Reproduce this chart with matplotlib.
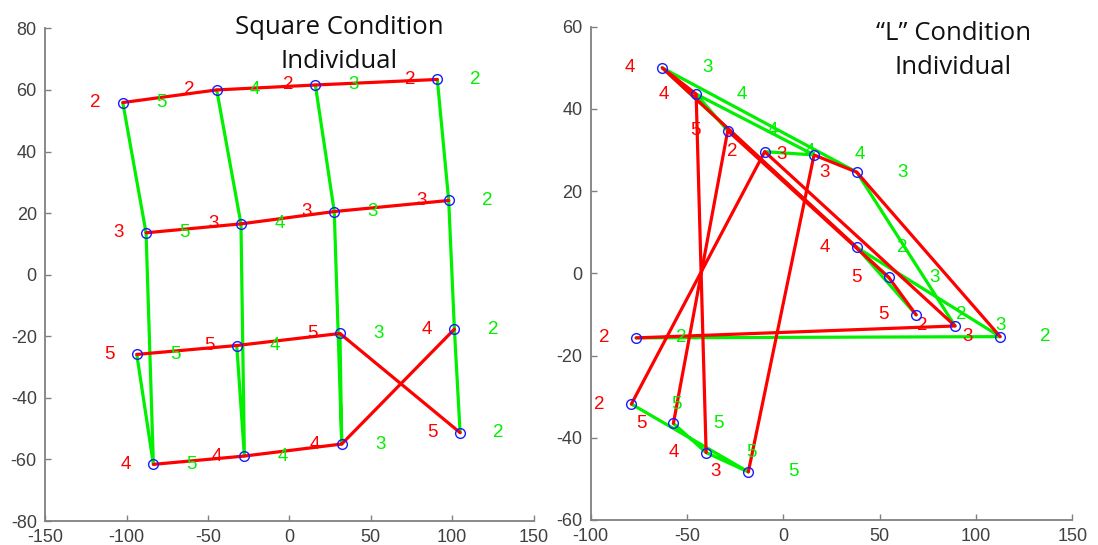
import matplotlib
matplotlib.use("Agg")
import matplotlib.pyplot as plt

# ---- Square condition: 16 node positions with their row (red) and column (green) labels
sq_x = [-102.3, -44.6, 16.0, 90.9,
        -88.0, -29.7, 27.6, 97.9,
        -93.7, -32.3, 31.1, 101.4,
        -83.5, -27.6, 32.2, 104.9]
sq_y = [55.9, 60.0, 61.6, 63.4,
        13.6, 16.5, 20.5, 24.1,
        -25.9, -23.0, -19.1, -17.7,
        -61.6, -58.9, -55.0, -51.3]
sq_red = [2, 2, 2, 2,
          3, 3, 3, 3,
          5, 5, 5, 4,
          4, 4, 4, 5]
sq_green = [5, 4, 3, 2,
            5, 4, 3, 2,
            5, 4, 3, 2,
            5, 4, 3, 2]

# ---- "L" condition
l_x = [-62.9, -45.3, -28.9, -9.7, 15.9, 38.1, 38.1, 54.7,
       68.9, 89.1, 112.5, -76.4, -78.9, -57.1, -40.1, -18.2]
l_y = [50.0, 43.6, 34.7, 29.6, 28.8, 24.6, 6.3, -1.0,
       -10.1, -12.8, -15.4, -15.7, -31.8, -36.5, -43.6, -48.3]
l_red = [4, 4, 5, 2, 3, 3, 4, 5,
         5, 2, 3, 2, 2, 5, 4, 3]
l_green = [3, 4, 4, 4, 4, 3, 2, 3,
           2, 3, 2, 2, 5, 5, 5, 5]

sq_title = ["Square Condition", "Individual"]
l_title = ["\u201cL\u201d Condition", "Individual"]

sq_xticks = [-150, -100, -50, 0, 50, 100, 150]
sq_yticks = [-80, -60, -40, -20, 0, 20, 40, 60, 80]
l_xticks = [-100, -50, 0, 50, 100, 150]
l_yticks = [-60, -40, -20, 0, 20, 40, 60]

RED = "#ff0000"
GREEN = "#00f000"
BLUE = "#1a1aff"
RED_DX = -16.8     # label offsets in data units
GREEN_DX = 23.6

plt.rcParams["font.family"] = ["Liberation Sans", "DejaVu Sans"]
plt.rcParams["axes.unicode_minus"] = False

fig = plt.figure(figsize=(10.98, 5.45), dpi=100)
ax1 = fig.add_axes([0.0411, 0.0440, 0.4448, 0.9040])
ax2 = fig.add_axes([0.5380, 0.0459, 0.4387, 0.9051])


def connect(ax, xs, ys, key, order, color):
    for k in sorted(set(key)):
        idx = [i for i in range(len(xs)) if key[i] == k]
        idx.sort(key=lambda i: order[i])
        ax.plot([xs[i] for i in idx], [ys[i] for i in idx], color=color,
                lw=2.3, solid_capstyle="round", zorder=2)


def draw(ax, xs, ys, red, green, xlim, ylim, xticks, yticks):
    connect(ax, xs, ys, green, red, GREEN)
    connect(ax, xs, ys, red, green, RED)
    ax.plot(xs, ys, "o", mfc="none", mec=BLUE, ms=7, mew=1.0, zorder=4)
    for x, y, r, g in zip(xs, ys, red, green):
        ax.text(x + RED_DX, y, str(r), color=RED, fontsize=13.5,
                ha="center", va="center", zorder=3)
        ax.text(x + GREEN_DX, y, str(g), color=GREEN, fontsize=13.5,
                ha="center", va="center", zorder=3)
    ax.set_xlim(*xlim)
    ax.set_ylim(*ylim)
    ax.set_xticks(xticks)
    ax.set_yticks(yticks)
    for s in ("top", "right"):
        ax.spines[s].set_visible(False)
    for s in ("left", "bottom"):
        ax.spines[s].set_color("#808080")
        ax.spines[s].set_linewidth(1.3)
    ax.tick_params(direction="in", length=4, width=1.0, color="#808080",
                   labelsize=13, labelcolor="#404040", pad=6)


draw(ax1, sq_x, sq_y, sq_red, sq_green, (-150, 150), (-80, 80), sq_xticks, sq_yticks)
draw(ax2, l_x, l_y, l_red, l_green, (-100, 150), (-60, 60), l_xticks, l_yticks)

title_font = dict(ha="center", va="center", fontsize=18.5,
                  family=["Open Sans", "DejaVu Sans"], color="#111111")
for (cx, ys), lines in (((339.5, (27, 61)), sq_title), ((953.5, (33, 67)), l_title)):
    for line, yy in zip(lines, ys):
        fig.text(cx / 1098, 1 - yy / 545, line, **title_font)

fig.savefig("out.png", dpi=100)
